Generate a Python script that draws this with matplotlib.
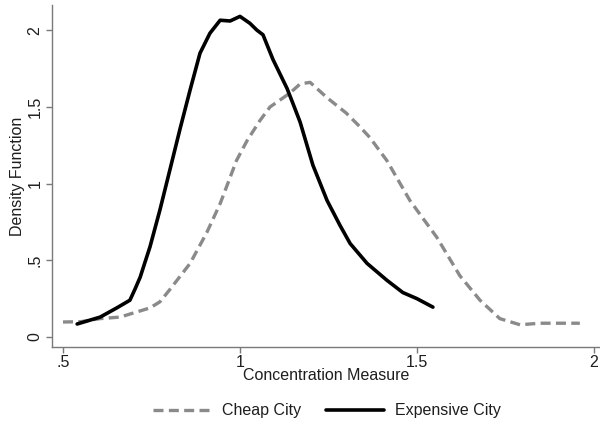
import matplotlib
matplotlib.use("Agg")
import matplotlib.pyplot as plt

plt.rcParams['font.family'] = ['Liberation Sans', 'DejaVu Sans']

# Kernel density estimates of the concentration measure
cheap_x = [0.50, 0.55, 0.605, 0.661, 0.746, 0.774, 0.802, 0.859, 0.906, 0.944,
           0.972, 0.99, 1.02, 1.056, 1.085, 1.141, 1.17, 1.198, 1.246, 1.30,
           1.339, 1.367, 1.415, 1.48, 1.556, 1.621, 1.678, 1.734, 1.791, 1.847,
           1.90, 1.96]
cheap_y = [0.098, 0.10, 0.12, 0.13, 0.19, 0.23, 0.31, 0.48, 0.68, 0.87,
           1.04, 1.15, 1.28, 1.41, 1.50, 1.59, 1.65, 1.66, 1.56, 1.46,
           1.37, 1.30, 1.15, 0.89, 0.65, 0.40, 0.24, 0.12, 0.08, 0.09,
           0.09, 0.09]

expensive_x = [0.54, 0.605, 0.652, 0.689, 0.703, 0.718, 0.746, 0.774, 0.802,
               0.831, 0.859, 0.887, 0.915, 0.944, 0.972, 1.0, 1.028, 1.048,
               1.065, 1.093, 1.133, 1.15, 1.17, 1.206, 1.246, 1.282, 1.311,
               1.359, 1.415, 1.46, 1.50, 1.545]
expensive_y = [0.085, 0.13, 0.19, 0.24, 0.31, 0.39, 0.59, 0.83, 1.09,
               1.36, 1.61, 1.85, 1.98, 2.065, 2.06, 2.09, 2.045, 2.0,
               1.97, 1.81, 1.62, 1.52, 1.40, 1.12, 0.89, 0.73, 0.61,
               0.48, 0.37, 0.29, 0.25, 0.195]

x_ticks = [0.5, 1.0, 1.5, 2.0]
x_tick_labels = ['.5', '1', '1.5', '2']
y_ticks = [0, 0.5, 1.0, 1.5, 2.0]
y_tick_labels = ['0', '.5', '1', '1.5', '2']

fig = plt.figure(figsize=(6.0, 4.33), dpi=100)
ax = fig.add_axes([0.0867, 0.1986, 0.9133, 0.7894])

text_color = '#1e1e1e'
axis_color = '#7a7a7a'
fs = 11.5

ax.plot(cheap_x, cheap_y, color='#8a8a8a', lw=2.4, linestyle=(0, (3.0, 1.6)),
        label='Cheap City')
ax.plot(expensive_x, expensive_y, color='black', lw=2.6, label='Expensive City',
        solid_capstyle='round', solid_joinstyle='round')

ax.set_xlim(0.469, 2.017)
ax.set_ylim(-0.065, 2.163)

ax.set_xticks(x_ticks)
ax.set_xticklabels(x_tick_labels)
ax.set_yticks(y_ticks)
ax.set_yticklabels(y_tick_labels, rotation=90, va='center')

for side in ('top', 'right'):
    ax.spines[side].set_visible(False)
for side in ('left', 'bottom'):
    ax.spines[side].set_color(axis_color)
    ax.spines[side].set_linewidth(1.0)

ax.tick_params(axis='both', colors=axis_color, labelcolor=text_color,
               labelsize=fs, length=4, width=1.0)
ax.tick_params(axis='y', pad=3)
ax.tick_params(axis='x', pad=1.5)

ax.set_xlabel('Concentration Measure', fontsize=fs, color=text_color, labelpad=-1)
ax.set_ylabel('Density Function', fontsize=fs, color=text_color, labelpad=2)

fig.legend(loc='center', bbox_to_anchor=(0.545, 0.051), ncol=2, frameon=False,
           fontsize=fs, handlelength=3.6, columnspacing=1.6, handletextpad=0.7,
           labelcolor=text_color)

fig.savefig('out.png', dpi=100, facecolor='white')
